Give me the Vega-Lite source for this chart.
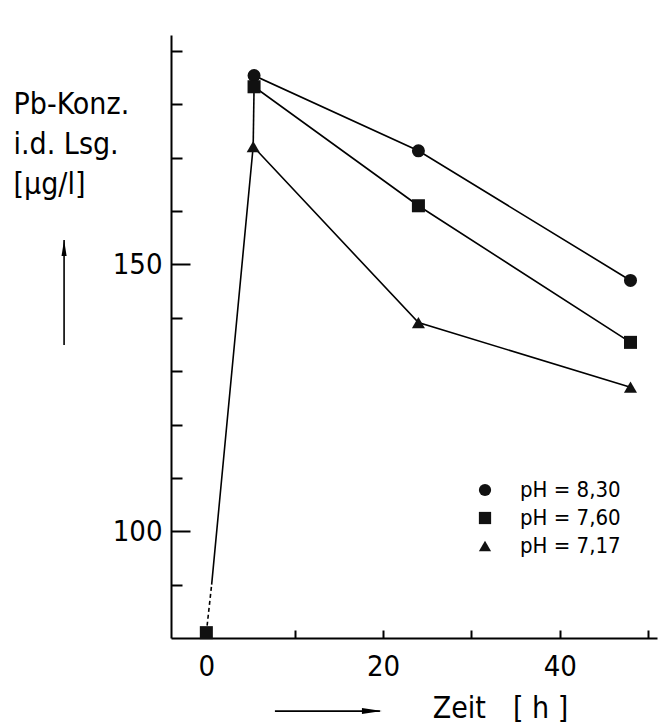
{
  "$schema": "https://vega.github.io/schema/vega-lite/v6.json",
  "width": 486,
  "height": 603,
  "autosize": {"type": "none"},
  "padding": {"left": 171, "top": 35, "right": 1, "bottom": 89},
  "background": "white",
  "config": {
    "view": {"stroke": null},
    "axis": {
      "grid": false,
      "domainColor": "black",
      "domainWidth": 2,
      "tickColor": "black",
      "tickWidth": 2,
      "labelColor": "black",
      "labelFont": "DejaVu Sans Condensed",
      "labelFontSize": 29,
      "labelOverlap": false,
      "labelFlush": false,
      "labelBound": false,
      "titleFont": "DejaVu Sans Condensed",
      "titleFontSize": 30,
      "titleFontWeight": "normal",
      "titleColor": "black"
    },
    "legend": {
      "labelFont": "DejaVu Sans Condensed",
      "labelFontSize": 22,
      "labelColor": "black",
      "symbolSize": 150,
      "symbolStrokeWidth": 0,
      "symbolFillColor": "black",
      "labelOffset": 24,
      "rowPadding": 6
    }
  },
  "datasets": {
    "meas": [
      {"series": "pH = 8,30", "t": 5.4, "c": 185.4},
      {"series": "pH = 8,30", "t": 24, "c": 171.3},
      {"series": "pH = 8,30", "t": 48, "c": 147},
      {"series": "pH = 7,60", "t": 5.4, "c": 183.3},
      {"series": "pH = 7,60", "t": 24, "c": 161},
      {"series": "pH = 7,60", "t": 48, "c": 135.4},
      {"series": "pH = 7,17", "t": 5.3, "c": 172.1},
      {"series": "pH = 7,17", "t": 24, "c": 139.1},
      {"series": "pH = 7,17", "t": 48, "c": 127}
    ],
    "lines": [
      {"g": "a", "t": 5.4, "c": 185.4},
      {"g": "a", "t": 24, "c": 171.3},
      {"g": "a", "t": 48, "c": 147},
      {"g": "b", "t": 5.4, "c": 183.3},
      {"g": "b", "t": 24, "c": 161},
      {"g": "b", "t": 48, "c": 135.4},
      {"g": "c", "t": 0.6, "c": 90},
      {"g": "c", "t": 5.3, "c": 172.1},
      {"g": "c", "t": 24, "c": 139.1},
      {"g": "c", "t": 48, "c": 127},
      {"g": "d", "t": 5.3, "c": 172.1},
      {"g": "d", "t": 5.4, "c": 183.3}
    ],
    "start": [{"t": 0, "c": 81}],
    "segs": [
      {"kind": "dash", "t": 0, "c": 81, "t2": 0.6, "c2": 90},
      {"kind": "arrow", "t": -16.1, "c": 134.9, "t2": -16.1, "c2": 154.6},
      {"kind": "arrow", "t": 7.76, "c": 66.3, "t2": 19.64, "c2": 66.3}
    ],
    "heads": [
      {"dir": "up", "t": -16.1, "c": 153.1},
      {"dir": "right", "t": 18.74, "c": 66.3}
    ]
  },
  "encoding": {
    "x": {
      "field": "t",
      "type": "quantitative",
      "scale": {"domain": [-4, 51], "nice": false, "zero": false},
      "axis": {
        "values": [0, 10, 20, 30, 40, 50],
        "labelExpr": "datum.value % 20 == 0 ? datum.label : ''",
        "tickSize": -8,
        "tickOpacity": {"condition": {"test": "datum.value == 0", "value": 0}, "value": 1},
        "labelPadding": 22,
        "title": "Zeit\u2003[ h ]",
        "titleX": 329,
        "titleY": 79,
        "titleAlign": "center",
        "titleBaseline": "alphabetic"
      }
    },
    "y": {
      "field": "c",
      "type": "quantitative",
      "scale": {"domain": [80, 193], "nice": false, "zero": false},
      "axis": {
        "values": [90, 100, 110, 120, 130, 140, 150, 160, 170, 180, 190],
        "labelExpr": "datum.value == 100 || datum.value == 150 ? datum.label : ''",
        "tickSize": {"condition": {"test": "datum.value == 100 || datum.value == 150", "value": -19}, "value": -11},
        "labelPadding": 28,
        "title": ["Pb-Konz.", "i.d. Lsg.", "[µg/l]"],
        "titleAngle": 0,
        "titleAlign": "left",
        "titleBaseline": "top",
        "titleX": -158,
        "titleY": 54,
        "titleLineHeight": 40
      }
    }
  },
  "layer": [
    {
      "data": {"name": "lines"},
      "mark": {"type": "line", "color": "black", "strokeWidth": 1.6},
      "encoding": {"detail": {"field": "g"}}
    },
    {
      "data": {"name": "segs"},
      "transform": [{"filter": "datum.kind == 'dash'"}],
      "mark": {"type": "rule", "color": "black", "strokeWidth": 1.6, "strokeDash": [4, 3]},
      "encoding": {"x2": {"field": "t2"}, "y2": {"field": "c2"}}
    },
    {
      "data": {"name": "segs"},
      "transform": [{"filter": "datum.kind == 'arrow'"}],
      "mark": {"type": "rule", "color": "black", "strokeWidth": 1.6},
      "encoding": {"x2": {"field": "t2"}, "y2": {"field": "c2"}}
    },
    {
      "data": {"name": "heads"},
      "transform": [{"filter": "datum.dir == 'up'"}],
      "mark": {"type": "point", "shape": "M0,-1L0.32,1L-0.32,1Z", "filled": true, "color": "black", "opacity": 1, "size": 256},
      "encoding": {}
    },
    {
      "data": {"name": "heads"},
      "transform": [{"filter": "datum.dir == 'right'"}],
      "mark": {"type": "point", "shape": "M1,0L-1,0.3L-1,-0.3Z", "filled": true, "color": "black", "opacity": 1, "size": 400},
      "encoding": {}
    },
    {
      "data": {"name": "start"},
      "mark": {"type": "point", "shape": "square", "filled": true, "color": "#111", "opacity": 1, "size": 170},
      "encoding": {}
    },
    {
      "data": {"name": "meas"},
      "mark": {"type": "point", "filled": true, "color": "#111", "opacity": 1, "size": 170},
      "encoding": {
        "shape": {
          "field": "series",
          "type": "nominal",
          "scale": {"domain": ["pH = 8,30", "pH = 7,60", "pH = 7,17"], "range": ["circle", "square", "triangle-up"]},
          "legend": {"orient": "none", "legendX": 303, "legendY": 444, "title": null}
        }
      }
    }
  ]
}
